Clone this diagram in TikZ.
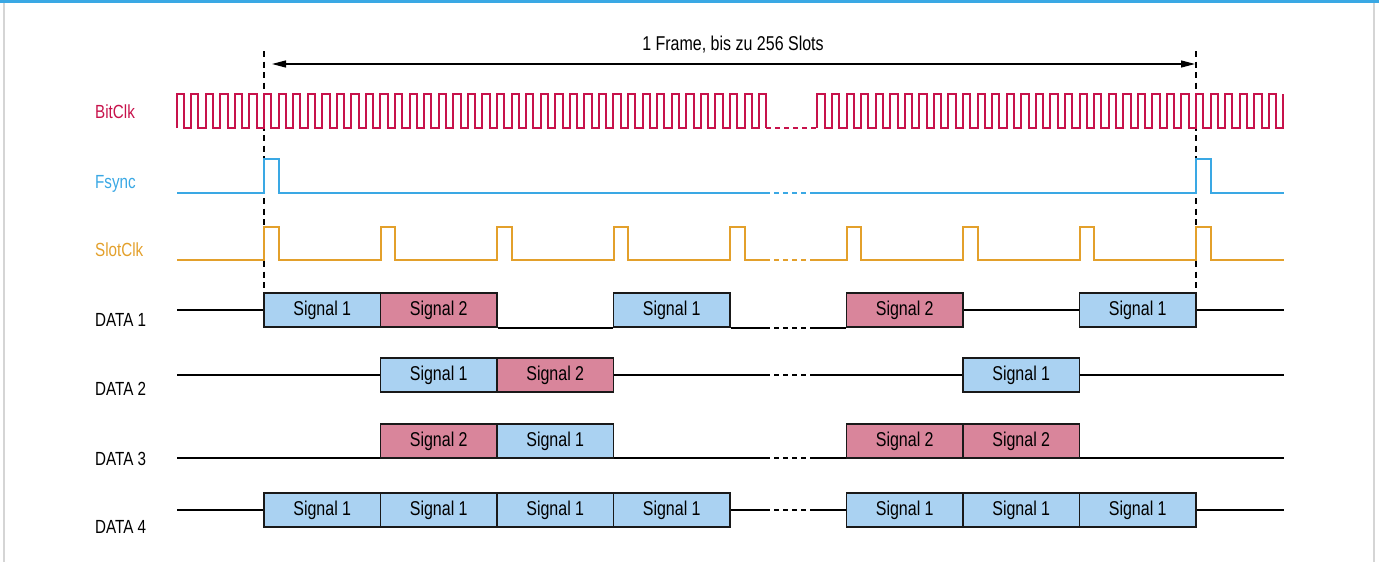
\documentclass[tikz,border=0pt]{standalone}
\usepackage{fontspec}
\setmainfont{Liberation Sans}[FakeStretch=0.8]
\usepackage{xcolor}
\usetikzlibrary{arrows.meta}
\definecolor{clkrot}{HTML}{C7124B}
\definecolor{syncblau}{HTML}{3AA8E4}
\definecolor{slotgelb}{HTML}{E3A02B}
\definecolor{sigblau}{HTML}{AAD2F2}
\definecolor{sigrosa}{HTML}{D9859B}
\definecolor{randgrau}{HTML}{D5D5D5}

\begin{document}
\begin{tikzpicture}[x=1pt,y=-1pt]
% Stili
\tikzstyle{rowlabel} = [
    anchor=base west,
    inner sep=0pt,
    font=\fontsize{19}{22}\selectfont
]

\tikzstyle{sigone} = [
    rectangle,
    draw=black!90,
    line width=1.8pt,
    fill=sigblau,
    minimum width=116.5pt,
    minimum height=34pt,
    inner sep=0pt,
    font=\fontsize{20}{23}\selectfont
]

\tikzstyle{sigtwo} = [sigone, fill=sigrosa]

\tikzstyle{bitline} = [clkrot, line width=2pt]
\tikzstyle{syncline} = [syncblau, line width=2pt]
\tikzstyle{slotline} = [slotgelb, line width=2pt]
\tikzstyle{dataline} = [black, line width=2pt]
\tikzstyle{gap} = [dash pattern=on 5pt off 4pt]
\tikzstyle{frameline} = [black, line width=1.3pt, dash pattern=on 6pt off 4.5pt]

\useasboundingbox (0,0) rectangle (1379,562);

% Rahmen
\fill[syncblau] (0,0) rectangle (1379,3);
\draw[randgrau, line width=1.3pt] (4,3) -- (4,562);
\draw[randgrau, line width=1.3pt] (1374,3) -- (1374,562);

% Coordinate
\coordinate (li) at (177,0);
\coordinate (re) at (1284,0);
\coordinate (ga) at (765,0);
\coordinate (gb) at (813,0);
\coordinate (fa) at (264,0);
\coordinate (fb) at (1196,0);
\coordinate (oben) at (0,51);
\coordinate (unten) at (0,288);
\coordinate (pa) at (272,64);
\coordinate (pb) at (1195,64);
\coordinate (rs) at (0,193);
\coordinate (rc) at (0,260);
\coordinate (r1) at (0,310);
\coordinate (r2) at (0,375);
\coordinate (r3) at (0,458);
\coordinate (r4) at (0,510);

% Etichette
\node[rowlabel, text=clkrot] (lbit) at (95,118) {BitClk};
\node[rowlabel, text=syncblau] (lsync) at (95,188) {Fsync};
\node[rowlabel, text=slotgelb] (lslot) at (95,256) {SlotClk};
\node[rowlabel] (ld1) at (95,326) {DATA 1};
\node[rowlabel] (ld2) at (95,395) {DATA 2};
\node[rowlabel] (ld3) at (95,465) {DATA 3};
\node[rowlabel] (ld4) at (95,533) {DATA 4};
\node[rowlabel, anchor=base, font=\fontsize{20}{23}\selectfont] (titel) at (733,50) {1 Frame, bis zu 256 Slots};

% Frame
\draw[frameline] (fa |- oben) -- (fa |- unten);
\draw[frameline] (fb |- oben) -- (fb |- unten);
\draw[{Triangle[length=14pt,width=7pt]}-{Triangle[length=14pt,width=7pt]}, line width=1.3pt] (pa) -- (pb);

% BitClk
\draw[bitline] (176.6,128) \foreach \k in {-6,...,33} {
    -- ++(0,-34) -- ++(7.28125,0) -- ++(0,34) -- ++(7.28125,0)
} -- ++(0,-34) -- ++(7.28125,0) -- ++(0,34);
\draw[bitline, gap] (766.3,128) -- (817.4,128);
\draw[bitline] (817.4,128) \foreach \k in {38,...,68} {
    -- ++(0,-34) -- ++(7.28125,0) -- ++(0,34) -- ++(7.28125,0)
} -- ++(0,-34) -- ++(7.28125,0) -- ++(0,34) -- ++(7.28125,0) -- ++(0,-34);

% Fsync
\draw[syncline] (li |- rs) -- (fa |- rs) -- ++(0,-34) -- ++(14.56,0) -- ++(0,34) -- (ga |- rs);
\draw[syncline, gap] (ga |- rs) -- (gb |- rs);
\draw[syncline] (gb |- rs) -- (fb |- rs) -- ++(0,-34) -- ++(14.56,0) -- ++(0,34) -- (re |- rs);

% SlotClk
\draw[slotline] (li |- rc) \foreach \j in {0,...,4} {
    -- ({264+116.5*\j},260) -- ++(0,-33) -- ++(14.56,0) -- ++(0,33)
} -- (ga |- rc);
\draw[slotline, gap] (ga |- rc) -- (gb |- rc);
\draw[slotline] (gb |- rc) \foreach \j in {5,...,8} {
    -- ({264+116.5*\j},260) -- ++(0,-33) -- ++(14.56,0) -- ++(0,33)
} -- (re |- rc);

% DATA 1
\node[sigone] (d1a) at (322.25,310) {Signal 1};
\node[sigtwo] (d1b) at (438.75,310) {Signal 2};
\node[sigone] (d1c) at (671.75,310) {Signal 1};
\node[sigtwo] (d1d) at (904.75,310) {Signal 2};
\node[sigone] (d1e) at (1137.75,310) {Signal 1};

\draw[dataline] (li |- r1) -- (d1a.west);
\draw[dataline] (d1b.south east) -- (d1c.south west);
\draw[dataline] (d1c.south east) -- (ga |- d1c.south);
\draw[dataline, gap] (ga |- d1c.south) -- (gb |- d1c.south);
\draw[dataline] (gb |- d1c.south) -- (d1d.south west);
\draw[dataline] (d1d.east) -- (d1e.west);
\draw[dataline] (d1e.east) -- (re |- r1);

% DATA 2
\node[sigone] (d2a) at (438.75,375) {Signal 1};
\node[sigtwo] (d2b) at (555.25,375) {Signal 2};
\node[sigone] (d2c) at (1021.25,375) {Signal 1};

\draw[dataline] (li |- r2) -- (d2a.west);
\draw[dataline] (d2b.east) -- (ga |- r2);
\draw[dataline, gap] (ga |- r2) -- (gb |- r2);
\draw[dataline] (gb |- r2) -- (d2c.west);
\draw[dataline] (d2c.east) -- (re |- r2);

% DATA 3
\draw[dataline] (li |- r3) -- (ga |- r3);
\draw[dataline, gap] (ga |- r3) -- (gb |- r3);
\draw[dataline] (gb |- r3) -- (re |- r3);

\node[sigtwo] (d3a) at (438.75,441) {Signal 2};
\node[sigone] (d3b) at (555.25,441) {Signal 1};
\node[sigtwo] (d3c) at (904.75,441) {Signal 2};
\node[sigtwo] (d3d) at (1021.25,441) {Signal 2};

% DATA 4
\node[sigone] (d4a) at (322.25,510) {Signal 1};
\node[sigone] (d4b) at (438.75,510) {Signal 1};
\node[sigone] (d4c) at (555.25,510) {Signal 1};
\node[sigone] (d4d) at (671.75,510) {Signal 1};
\node[sigone] (d4e) at (904.75,510) {Signal 1};
\node[sigone] (d4f) at (1021.25,510) {Signal 1};
\node[sigone] (d4g) at (1137.75,510) {Signal 1};

\draw[dataline] (li |- r4) -- (d4a.west);
\draw[dataline] (d4d.east) -- (ga |- r4);
\draw[dataline, gap] (ga |- r4) -- (gb |- r4);
\draw[dataline] (gb |- r4) -- (d4e.west);
\draw[dataline] (d4g.east) -- (re |- r4);

\end{tikzpicture}
\end{document}
